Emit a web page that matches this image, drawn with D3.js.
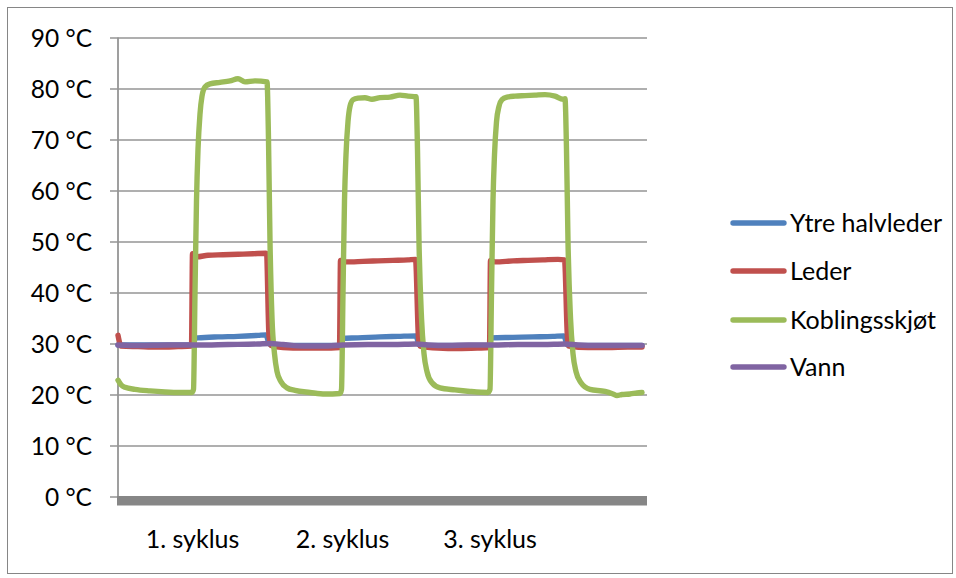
<!DOCTYPE html>
<html>
<head>
<meta charset="utf-8">
<script src="https://cdn.jsdelivr.net/npm/d3@7"></script>
<style>
  html, body { margin: 0; padding: 0; background: #fff; }
  svg text { font-family: Lato, Carlito, "Open Sans", sans-serif; fill: #000; }
</style>
</head>
<body>
<svg id="chart" width="956" height="578"></svg>
<script>
// Temperature log over three heating cycles (time in minutes, temperature in °C)
const seriesNames = ["Ytre halvleder", "Leder", "Koblingsskjøt", "Vann"];
const seriesColors = ["#4F81BD", "#C0504D", "#9BBB59", "#8064A2"];

const yTicks = [0, 10, 20, 30, 40, 50, 60, 70, 80, 90];
const cycleLabels = ["1. syklus", "2. syklus", "3. syklus"];
const cycleLabelTimes = [74.5, 224.5, 372];

const ytreHalvleder = [
  [0, 29.7], [30, 29.7], [74, 29.7], [75, 31.0], [80, 31.1], [100, 31.3], [120, 31.4],
  [140, 31.6], [148, 31.7], [151, 30.0], [155, 29.6], [190, 29.6], [222.5, 29.6],
  [224, 31.0], [240, 31.1], [262, 31.3], [280, 31.4], [298, 31.5], [301, 29.8],
  [305, 29.6], [340, 29.6], [371.5, 29.6], [373, 31.1], [395, 31.2], [415, 31.3],
  [435, 31.4], [446, 31.5], [449, 29.8], [453, 29.6], [490, 29.6], [524, 29.6]
];

const leder = [
  [0, 31.6], [1.5, 30.2], [3, 29.5], [20, 29.4], [40, 29.3], [60, 29.4], [73.5, 29.5],
  [74.5, 47.6], [79, 47.0], [90, 47.3], [105, 47.4], [120, 47.5], [135, 47.6], [148, 47.7],
  [148.5, 47.6], [151, 31.5], [153, 29.6], [165, 29.2], [185, 29.1], [205, 29.1], [221.5, 29.2],
  [222.5, 46.3], [228, 46.0], [245, 46.1], [260, 46.2], [275, 46.3], [290, 46.4], [297.5, 46.5],
  [300.5, 31.0], [302, 29.5], [320, 29.1], [340, 29.0], [360, 29.1], [371.5, 29.2],
  [372.5, 46.3], [377, 46.0], [395, 46.2], [410, 46.3], [425, 46.4], [440, 46.5], [446.5, 46.4],
  [449.5, 31.0], [451, 29.5], [470, 29.2], [490, 29.2], [510, 29.3], [524, 29.3]
];

const koblingsskjot = [
  [0, 22.8], [3, 21.9], [7, 21.4], [17, 21.0], [32, 20.7], [47, 20.5], [62, 20.4], [74, 20.4],
  [75.5, 21.0], [77, 40.0], [78.5, 58.0], [80, 68.0], [82, 75.0], [84, 78.5], [87, 80.3], [92, 80.9],
  [102, 81.2], [112, 81.5], [120, 81.9], [127, 81.3], [137, 81.5], [149, 81.3],
  [150.5, 70.0], [152, 50.0], [154, 35.0], [156.5, 28.0], [159, 24.5], [163, 22.5], [169, 21.3],
  [177, 20.8], [192, 20.4], [207, 20.1], [222, 20.2],
  [223.5, 21.0], [225, 40.0], [226.5, 58.0], [228, 67.0], [230, 73.5], [232, 76.5], [235, 77.8],
  [240, 78.1], [247, 78.2], [254, 77.9], [262, 78.2], [272, 78.3], [282, 78.7], [290, 78.5], [298, 78.4],
  [299.5, 68.0], [301, 50.0], [303.5, 35.0], [306, 28.0], [309, 24.5], [314, 22.3], [322, 21.3],
  [337, 20.9], [352, 20.6], [370, 20.4],
  [372, 21.0], [373.5, 40.0], [375, 58.0], [376.5, 67.0], [378.5, 73.5], [381, 76.5], [384, 77.8],
  [389, 78.3], [397, 78.5], [407, 78.6], [417, 78.7], [427, 78.8], [437, 78.5], [445, 77.9], [447, 78.0],
  [448.5, 68.0], [450, 50.0], [452.5, 35.0], [455, 28.0], [458, 24.5], [463, 22.3], [472, 21.0],
  [487, 20.6], [495, 20.1], [499, 19.8], [504, 20.0], [512, 20.1], [519, 20.3], [524, 20.4]
];

const vann = [
  [0, 29.7], [20, 29.6], [50, 29.7], [80, 29.7], [110, 29.8], [140, 29.9], [152, 30.0],
  [165, 29.8], [185, 29.5], [205, 29.5], [225, 29.7], [250, 29.8], [275, 29.8], [298, 29.9],
  [310, 29.7], [330, 29.6], [350, 29.7], [375, 29.7], [400, 29.8], [425, 29.8], [447, 29.9],
  [460, 29.7], [480, 29.6], [500, 29.6], [524, 29.6]
];

const allSeries = [ytreHalvleder, leder, koblingsskjot, vann];

const svg = d3.select("#chart");
const plot = { left: 118, right: 647, top: 37.5, bottom: 496.5 };

// outer chart frame
svg.append("rect")
  .attr("x", 7.5).attr("y", 7.5)
  .attr("width", 945).attr("height", 566)
  .attr("fill", "#fff").attr("stroke", "#868686").attr("stroke-width", 1);

const x = d3.scaleLinear().domain([0, 529]).range([plot.left, plot.right]);
const y = d3.scaleLinear().domain([0, 90]).range([plot.bottom, plot.top]);

// horizontal gridlines with ticks and labels
const yAxis = d3.axisLeft(y)
  .tickValues(yTicks)
  .tickSize(-(plot.right - plot.left) - 8)
  .tickFormat(d => d + " °C");
const gy = svg.append("g")
  .attr("transform", `translate(${plot.left - 8},0)`)
  .call(yAxis);
gy.select(".domain").remove();
gy.selectAll(".tick line")
  .attr("stroke", "#959595").attr("stroke-width", 1.6);
gy.selectAll(".tick text")
  .attr("x", -18)
  .attr("dy", "0.35em")
  .style("font-size", "24.5px")
  .style("font-family", "Lato, Carlito, sans-serif");

// vertical axis line
svg.append("line")
  .attr("x1", plot.left).attr("x2", plot.left)
  .attr("y1", y(90)).attr("y2", y(0))
  .attr("stroke", "#959595").attr("stroke-width", 1.8);

// thick horizontal axis bar at 0 °C
svg.append("rect")
  .attr("x", plot.left - 1)
  .attr("y", y(0) - 0.5)
  .attr("width", plot.right - plot.left + 1)
  .attr("height", 9.5)
  .attr("fill", "#868686");

// cycle labels
svg.append("g").selectAll("text")
  .data(cycleLabels)
  .join("text")
  .attr("x", (d, i) => x(cycleLabelTimes[i]))
  .attr("y", 548)
  .attr("text-anchor", "middle")
  .style("font-size", "25px")
  .text(d => d);

// series lines
const line = d3.line()
  .x(d => x(d[0]))
  .y(d => y(d[1]))
  .curve(d3.curveMonotoneX);

svg.append("g").selectAll("path")
  .data(allSeries)
  .join("path")
  .attr("d", line)
  .attr("fill", "none")
  .attr("stroke", (d, i) => seriesColors[i])
  .attr("stroke-width", 5.4)
  .attr("stroke-linejoin", "round")
  .attr("stroke-linecap", "round");

// legend
const legendY = [223, 271, 320, 367];
const legend = svg.append("g").selectAll("g")
  .data(seriesNames)
  .join("g")
  .attr("transform", (d, i) => `translate(0,${legendY[i]})`);
legend.append("line")
  .attr("x1", 733).attr("x2", 784)
  .attr("y1", 0).attr("y2", 0)
  .attr("stroke", (d, i) => seriesColors[i])
  .attr("stroke-width", 5.4)
  .attr("stroke-linecap", "round");
legend.append("text")
  .attr("x", 790)
  .attr("dy", "0.35em")
  .style("font-size", "25px")
  .text(d => d);
</script>
</body>
</html>
